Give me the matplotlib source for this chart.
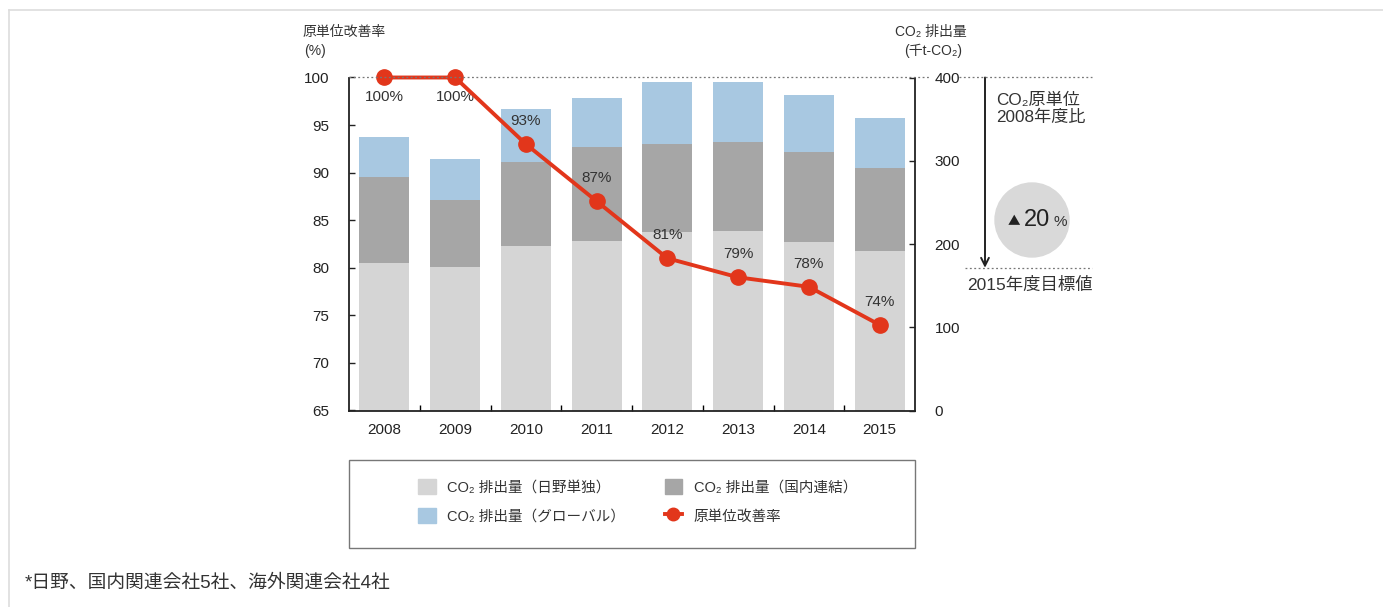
import matplotlib
matplotlib.use("Agg")
import matplotlib.pyplot as plt
from matplotlib.patches import Patch, Ellipse
from matplotlib.lines import Line2D
import matplotlib.transforms as mtransforms

plt.rcParams['font.family'] = ['Liberation Sans', 'Noto Sans CJK JP', 'DejaVu Sans']

# data
years = ['2008', '2009', '2010', '2011', '2012', '2013', '2014', '2015']
hino_only = [177, 172, 197, 204, 214, 216, 203, 192]        # CO2 (Hino alone)
domestic = [103, 81, 102, 113, 106, 106, 107, 99]           # added by domestic group
global_add = [48, 49, 63, 58, 75, 72, 69, 60]               # added by overseas
rate = [100, 100, 93, 87, 81, 79, 78, 74]                   # intensity vs 2008 (%)
target = 80

LIGHT = '#d5d5d5'
DARK = '#a6a6a6'
BLUE = '#a8c8e1'
RED = '#e2361b'
TXT = '#333333'

W, H = 1383, 607
fig = plt.figure(figsize=(W / 100, H / 100), dpi=100)

def fx(px):
    return px / W

def fy(py):
    return 1 - py / H

ax = fig.add_axes([fx(349), fy(410.5), fx(915) - fx(349), fy(77.5) - fy(410.5)])
x = range(len(years))
bottom2 = [a + b for a, b in zip(hino_only, domestic)]
ax.bar(x, hino_only, width=0.71, color=LIGHT, zorder=2)
ax.bar(x, domestic, width=0.71, bottom=hino_only, color=DARK, zorder=2)
ax.bar(x, global_add, width=0.71, bottom=bottom2, color=BLUE, zorder=2)
ax.set_xlim(-0.5, len(years) - 0.5)
ax.set_ylim(0, 400)
ax.set_xticks(list(x))
ax.set_xticklabels(years)
ax.tick_params(axis='x', length=0, pad=9, labelsize=11, colors='#222222')
ax.set_xticks([i + 0.5 for i in range(len(years) - 1)], minor=True)
ax.tick_params(axis='x', which='minor', direction='in', length=4, width=1)
for s in ['left', 'right', 'bottom']:
    ax.spines[s].set_color('#222222')
    ax.spines[s].set_linewidth(1.3)
ax.spines['top'].set_visible(False)

ax2 = ax.twinx()
ax.yaxis.tick_right()
ax.set_yticks([0, 100, 200, 300, 400])
ax.tick_params(axis='y', direction='in', length=4, pad=14, labelsize=11,
               colors='#222222', width=1)
ax2.set_ylim(65, 100)
ax2.yaxis.tick_left()
ax2.set_yticks(range(65, 101, 5))
ax2.tick_params(axis='y', direction='in', length=4, pad=14, labelsize=11,
                colors='#222222', width=1)
for s in ax2.spines.values():
    s.set_visible(False)
ax2.plot(list(x), rate, color=RED, lw=2.8, marker='o', markersize=11, zorder=5,
         clip_on=False)
for i, r in enumerate(rate):
    dy = -20 if i < 2 else 23
    ax2.annotate(f'{r}%', (i, r), xytext=(0, dy * 0.72), textcoords='offset points',
                 ha='center', va='center', fontsize=11, color=TXT)

# dotted reference lines (top = 100%, target = 80%)
tr_top = mtransforms.blended_transform_factory(fig.transFigure, ax2.transData)
dots = dict(color='#777777', lw=0.9, ls=(0, (1.5, 2.0)))
fig.add_artist(Line2D([fx(349), fx(929)], [100, 100], transform=tr_top, **dots))
fig.add_artist(Line2D([fx(959), fx(1092)], [100, 100], transform=tr_top, **dots))
fig.add_artist(Line2D([fx(965), fx(1092)], [target, target], transform=tr_top, **dots))
ax2.annotate('', xy=(fx(985), target), xytext=(fx(985), 100),
             xycoords=tr_top, textcoords=tr_top,
             arrowprops=dict(arrowstyle='->', color='#222222', lw=1.4,
                             mutation_scale=14, shrinkA=0, shrinkB=0))

fig.text(fx(996), fy(100), 'CO₂原単位', fontsize=12.3, color=TXT, va='center')
fig.text(fx(996), fy(117), '2008年度比', fontsize=12.3, color=TXT, va='center')
fig.text(fx(967), fy(285), '2015年度目標値', fontsize=12.5, color=TXT, va='center')
fig.add_artist(Ellipse((fx(1032), fy(220)), fx(74), 74 / H, color='#d9d9d9',
                       transform=fig.transFigure))
fig.text(fx(1020), fy(222), '▲', fontsize=9, color='#222222', ha='right', va='center',
         family=['Noto Sans CJK JP', 'DejaVu Sans'])
fig.text(fx(1037), fy(220), '20', fontsize=17, color='#222222', ha='center', va='center')
fig.text(fx(1054), fy(222), '%', fontsize=11, color=TXT, ha='left', va='center')

# axis titles
fig.text(fx(303), fy(32), '原単位改善率', fontsize=10, color=TXT, va='center')
fig.text(fx(304), fy(51), '(%)', fontsize=10, color=TXT, va='center')
fig.text(fx(967), fy(32), 'CO₂ 排出量', fontsize=10, color=TXT, va='center', ha='right')
fig.text(fx(962), fy(51), '(千t-CO₂)', fontsize=10, color=TXT, va='center', ha='right')

# legend box
fig.add_artist(plt.Rectangle((fx(349), fy(548)), fx(915) - fx(349), fy(460) - fy(548),
                             transform=fig.transFigure, fill=False,
                             edgecolor='#777777', lw=1))
handles = [Patch(color=LIGHT), Patch(color=BLUE), Patch(color=DARK),
           Line2D([], [], color=RED, lw=2.8, marker='o', markersize=9)]
labels = ['CO₂ 排出量（日野単独）', 'CO₂ 排出量（グローバル）',
          'CO₂ 排出量（国内連結）', '原単位改善率']
fig.legend(handles, labels, loc='upper left', bbox_to_anchor=(fx(418), fy(479)),
           ncol=2, frameon=False, fontsize=10.5, handlelength=1.2, handleheight=1.2,
           columnspacing=2.7, labelspacing=0.95, handletextpad=0.8,
           labelcolor=TXT, borderaxespad=0, borderpad=0)

fig.text(fx(25), fy(583), '*日野、国内関連会社5社、海外関連会社4社', fontsize=13.5,
         color=TXT, va='center')

# page frame
fig.add_artist(Line2D([fx(9), 1], [fy(10), fy(10)], transform=fig.transFigure,
                      color='#dddddd', lw=1.2))
fig.add_artist(Line2D([fx(9), fx(9)], [fy(10), 0], transform=fig.transFigure,
                      color='#dddddd', lw=1.2))

fig.savefig('out.png', dpi=100)
